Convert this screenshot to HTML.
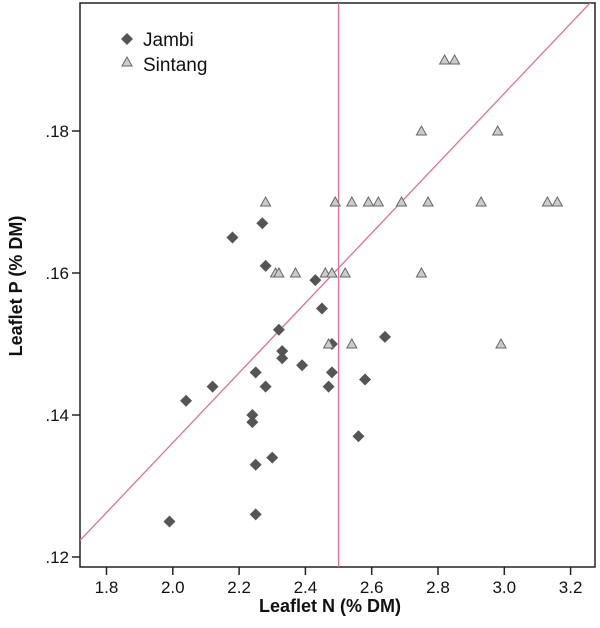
<!DOCTYPE html>
<html><head><meta charset="utf-8"><style>
body{margin:0;background:#fff;}
svg{display:block;font-family:"Liberation Sans",Arial,sans-serif;}
</style></head><body>
<svg id="chart" width="600" height="628">
<defs><clipPath id="pc"><rect x="80" y="3" width="515" height="564"/></clipPath></defs>
<rect x="80" y="3" width="515" height="564" fill="#fff" stroke="#222" stroke-width="1.5"/>
<g id="axes"></g>
<g id="marks" clip-path="url(#pc)"></g>
<g>
<path d="M127 33 L133 39 L127 45 L121 39 Z" fill="#555"/>
<text x="143" y="46" font-size="19" fill="#111">Jambi</text>
<path d="M127 57 L132 66 L122 66 Z" fill="#ccc" stroke="#666"/>
<text x="143" y="71" font-size="19" fill="#111">Sintang</text>
</g>
<text x="330" y="612" font-size="18" font-weight="bold" text-anchor="middle" fill="#111">Leaflet N (% DM)</text>
<text transform="translate(22,286) rotate(-90)" font-size="18" font-weight="bold" text-anchor="middle" fill="#111">Leaflet P (% DM)</text>
</svg>
<script>
const xTicks=[1.8,2.0,2.2,2.4,2.6,2.8,3.0,3.2];
const xTickLabels=["1.8","2.0","2.2","2.4","2.6","2.8","3.0","3.2"];
const yTicks=[0.12,0.14,0.16,0.18];
const yTickLabels=[".12",".14",".16",".18"];
const jambiN=[1.99,2.04,2.12,2.18,2.27,2.28,2.24,2.24,2.25,2.25,2.25,2.28,2.30,2.32,2.33,2.33,2.39,2.43,2.45,2.47,2.48,2.48,2.56,2.58,2.64];
const jambiP=[0.125,0.142,0.144,0.165,0.167,0.161,0.140,0.139,0.146,0.133,0.126,0.144,0.134,0.152,0.149,0.148,0.147,0.159,0.155,0.144,0.146,0.150,0.137,0.145,0.151];
const sintangN=[2.28,2.31,2.32,2.37,2.46,2.48,2.52,2.47,2.49,2.54,2.59,2.62,2.69,2.77,2.93,3.13,3.16,2.54,2.75,2.75,2.82,2.85,2.98,2.99];
const sintangP=[0.170,0.160,0.160,0.160,0.160,0.160,0.160,0.150,0.170,0.170,0.170,0.170,0.170,0.170,0.170,0.170,0.170,0.150,0.160,0.180,0.190,0.190,0.180,0.150];
const refN=[2.5];
const fitSlope=[0.0492];
const fitIntercept=[0.0377];
const NS="http://www.w3.org/2000/svg";
const X=v=>106.5+(v-1.8)*331.5;
const Y=v=>131+(0.18-v)*7100;
const L=80,R=595,T=3,B=567;
const axes=document.getElementById('axes'),marks=document.getElementById('marks');
function mk(tag,at,parent){const e=document.createElementNS(NS,tag);for(const k in at)e.setAttribute(k,at[k]);parent.appendChild(e);return e;}
xTicks.forEach((v,i)=>{
 const t=mk('line',{x1:X(v),x2:X(v),y1:B,y2:B+8,stroke:'#222','stroke-width':1.5},axes);
 
 
 const s=mk('text',{x:X(v),y:B+26,'font-size':17,'text-anchor':'middle',fill:'#111'},axes);
 s.textContent=xTickLabels[i];
 
 
});
yTicks.forEach((v,i)=>{
 const t=mk('line',{x1:L-8,x2:L,y1:Y(v),y2:Y(v),stroke:'#222','stroke-width':1.5},axes);
 
 
 const s=mk('text',{x:L-11,y:Y(v)+6,'font-size':17,'text-anchor':'end',fill:'#111'},axes);
 s.textContent=yTickLabels[i];
 
 
});
const vl=mk('line',{x1:X(refN[0]),x2:X(refN[0]),y1:T,y2:B,stroke:'#e0709a','stroke-width':1.3},marks);


const xa=1.8+(L-106.5)/331.5,xb=1.8+(R-106.5)/331.5;
const ya=fitIntercept[0]+fitSlope[0]*xa,yb=fitIntercept[0]+fitSlope[0]*xb;
const fl=mk('line',{x1:L,y1:Y(ya),x2:R,y2:Y(yb),stroke:'#e0709a','stroke-width':1.3},marks);


jambiN.forEach((n,i)=>{
 const x=X(n),y=Y(jambiP[i]);
 const p=mk('path',{d:`M${x} ${y-6}L${x+6} ${y}L${x} ${y+6}L${x-6} ${y}Z`,fill:'#555'},marks);
 
 
});
sintangN.forEach((n,i)=>{
 const x=X(n),y=Y(sintangP[i]);
 const p=mk('path',{d:`M${x} ${y-5}L${x+5} ${y+4}L${x-5} ${y+4}Z`,fill:'#ccc',stroke:'#666'},marks);
 
 
});
</script>
</body></html>
